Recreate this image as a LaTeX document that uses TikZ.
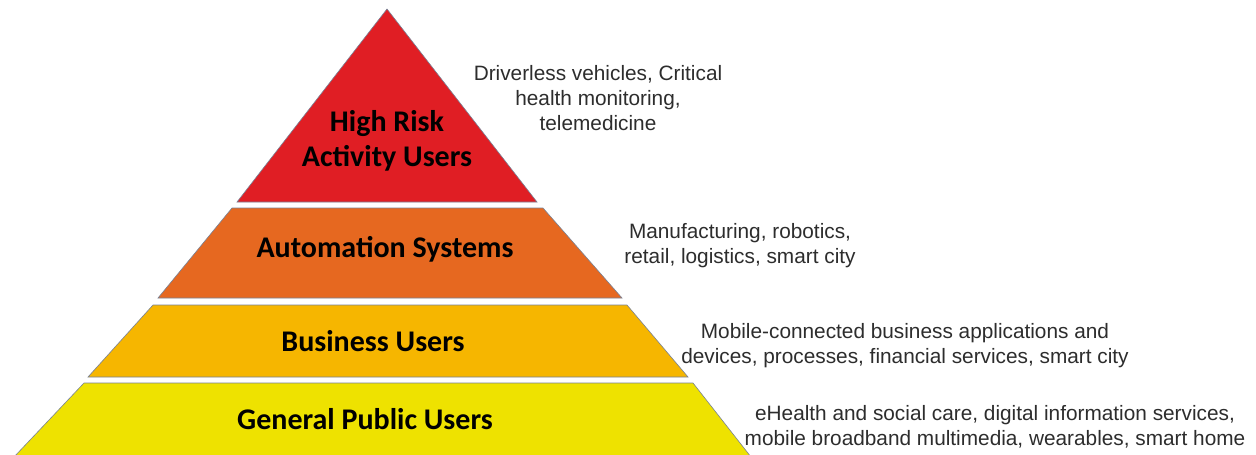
\documentclass[tikz,border=0pt]{standalone}
\usepackage{fontspec}
\setmainfont{Liberation Sans}
\newfontfamily\labfont{Carlito}
\definecolor{cRed}{RGB}{224,30,36}
\definecolor{cOrange}{RGB}{230,104,32}
\definecolor{cGold}{RGB}{246,182,0}
\definecolor{cYellow}{RGB}{238,226,0}
\definecolor{cEdge}{RGB}{120,130,150}
\definecolor{cText}{RGB}{45,45,45}
\tikzset{
  layer/.style={draw=cEdge, line width=0.6pt, line join=miter},
  lab/.style={font=\labfont\bfseries\fontsize{30}{35}\selectfont, text=black, align=center, inner sep=0pt},
  desc/.style={font=\fontsize{20.8}{25}\selectfont, text=cText, align=center, inner sep=0pt}
}
\begin{document}
\begin{tikzpicture}[x=1pt,y=-1pt]
\useasboundingbox (0,0) rectangle (1256,455);
\fill[white] (0,0) rectangle (1256,455);
% layers
\filldraw[layer, fill=cRed] (387,9) -- (537,202) -- (237,202) -- cycle;
\filldraw[layer, fill=cOrange] (232,208) -- (543,208) -- (622,298) -- (158,298) -- cycle;
\filldraw[layer, fill=cGold] (153,305) -- (627,305) -- (688,377) -- (88,377) -- cycle;
\filldraw[layer, fill=cYellow] (84,383) -- (693,383) -- (751,457) -- (14,457) -- cycle;
% labels
\node[lab] (l1) at (387,141) {High Risk\\Activity Users};
\node[lab] (l2) at (385,249) {Automation Systems};
\node[lab] (l3) at (373,341) {Business Users};
\node[lab] (l4) at (365,419) {General Public Users};
% descriptions
\node[desc] (d1) at (598,98) {Driverless vehicles, Critical\\health monitoring,\\telemedicine};
\node[desc] (d2) at (740,246) {Manufacturing, robotics,\\retail, logistics, smart city};
\node[desc] (d3) at (905,346) {Mobile-connected business applications and\\devices, processes, financial services, smart city};
\node[desc] (d4) at (995,427) {eHealth and social care, digital information services,\\mobile broadband multimedia, wearables, smart home};
\end{tikzpicture}
\end{document}
